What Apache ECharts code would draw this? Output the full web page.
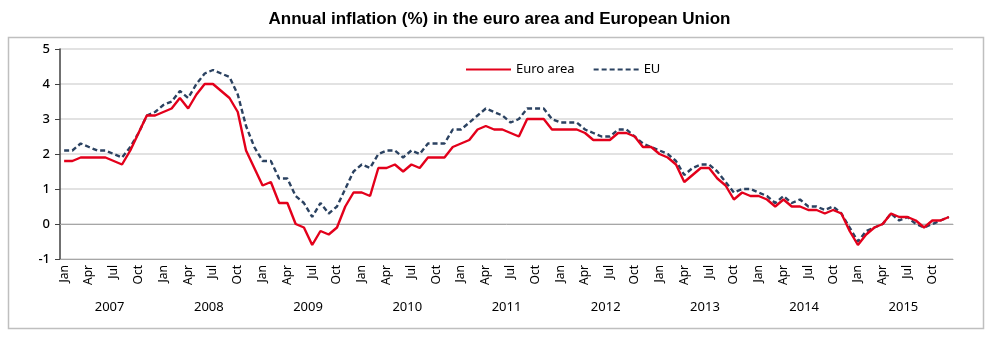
<!DOCTYPE html>
<html>
<head>
<meta charset="utf-8">
<script src="https://cdn.jsdelivr.net/npm/echarts@6/dist/echarts.min.js"></script>
<style>
  html, body { margin: 0; padding: 0; background: #fff; }
  #chart { width: 999px; height: 351px; }
</style>
</head>
<body>
<div id="chart"></div>
<script>
const years = ['2007', '2008', '2009', '2010', '2011', '2012', '2013', '2014', '2015'];
const monthNames = ['Jan', 'Feb', 'Mar', 'Apr', 'May', 'Jun', 'Jul', 'Aug', 'Sep', 'Oct', 'Nov', 'Dec'];
const yTicks = [-1, 0, 1, 2, 3, 4, 5];

// annual inflation, %, Jan 2007 .. Dec 2015
const euroArea = [
  1.8, 1.8, 1.9, 1.9, 1.9, 1.9, 1.8, 1.7, 2.1, 2.6, 3.1, 3.1,
  3.2, 3.3, 3.6, 3.3, 3.7, 4.0, 4.0, 3.8, 3.6, 3.2, 2.1, 1.6,
  1.1, 1.2, 0.6, 0.6, 0.0, -0.1, -0.6, -0.2, -0.3, -0.1, 0.5, 0.9,
  0.9, 0.8, 1.6, 1.6, 1.7, 1.5, 1.7, 1.6, 1.9, 1.9, 1.9, 2.2,
  2.3, 2.4, 2.7, 2.8, 2.7, 2.7, 2.6, 2.5, 3.0, 3.0, 3.0, 2.7,
  2.7, 2.7, 2.7, 2.6, 2.4, 2.4, 2.4, 2.6, 2.6, 2.5, 2.2, 2.2,
  2.0, 1.9, 1.7, 1.2, 1.4, 1.6, 1.6, 1.3, 1.1, 0.7, 0.9, 0.8,
  0.8, 0.7, 0.5, 0.7, 0.5, 0.5, 0.4, 0.4, 0.3, 0.4, 0.3, -0.2,
  -0.6, -0.3, -0.1, 0.0, 0.3, 0.2, 0.2, 0.1, -0.1, 0.1, 0.1, 0.2
];
const eu = [
  2.1, 2.1, 2.3, 2.2, 2.1, 2.1, 2.0, 1.9, 2.2, 2.6, 3.1, 3.2,
  3.4, 3.5, 3.8, 3.6, 4.0, 4.3, 4.4, 4.3, 4.2, 3.7, 2.8, 2.2,
  1.8, 1.8, 1.3, 1.3, 0.8, 0.6, 0.2, 0.6, 0.3, 0.5, 1.0, 1.5,
  1.7, 1.6, 2.0, 2.1, 2.1, 1.9, 2.1, 2.0, 2.3, 2.3, 2.3, 2.7,
  2.7, 2.9, 3.1, 3.3, 3.2, 3.1, 2.9, 3.0, 3.3, 3.3, 3.3, 3.0,
  2.9, 2.9, 2.9, 2.7, 2.6, 2.5, 2.5, 2.7, 2.7, 2.5, 2.3, 2.2,
  2.1, 2.0, 1.8, 1.4, 1.6, 1.7, 1.7, 1.5, 1.2, 0.9, 1.0, 1.0,
  0.9, 0.8, 0.6, 0.8, 0.6, 0.7, 0.5, 0.5, 0.4, 0.5, 0.3, -0.1,
  -0.5, -0.2, -0.1, 0.0, 0.3, 0.1, 0.2, 0.0, -0.1, 0.0, 0.1, 0.2
];

// one category per month
const months = [];
years.forEach(y => monthNames.forEach(m => months.push(m)));

const chart = echarts.init(document.getElementById('chart'));
const axisGrey = '#a6a6a6';
const font = '"Noto Sans", "Open Sans", sans-serif';

chart.setOption({
  animation: false,
  title: {
    text: 'Annual inflation (%) in the euro area and European Union',
    left: 'center',
    top: 6,
    textStyle: { fontFamily: '"Liberation Sans", Arial, sans-serif', fontSize: 17, fontWeight: 'bold', color: '#000' }
  },
  graphic: [
    {
      type: 'rect',
      shape: { x: 8.5, y: 37.5, width: 975, height: 291 },
      style: { fill: 'none', stroke: '#bfbfbf', lineWidth: 1.5 },
      silent: true,
      z: -1
    }
  ],
  legend: {
    left: 460,
    top: 58,
    itemWidth: 45,
    itemHeight: 10,
    itemGap: 18,
    itemStyle: { opacity: 0 },
    textStyle: { fontFamily: font, fontSize: 13, color: '#000' },
    data: ['Euro area', 'EU']
  },
  grid: { left: 60, right: 46, top: 49, bottom: 92 },
  xAxis: [
    {
      type: 'category',
      data: months,
      position: 'bottom',
      boundaryGap: true,
      axisLine: { onZero: false, lineStyle: { color: axisGrey, width: 1 } },
      axisTick: { interval: 0, length: 4, lineStyle: { color: axisGrey } },
      axisLabel: {
        interval: idx => idx % 3 === 0,
        rotate: 90,
        margin: 6,
        fontFamily: font,
        fontSize: 12,
        color: '#000'
      },
      splitLine: { show: false }
    },
    {
      // line at zero with month ticks
      type: 'category',
      data: months,
      position: 'bottom',
      boundaryGap: true,
      axisLine: { onZero: true, lineStyle: { color: axisGrey, width: 1 } },
      axisTick: { interval: 0, length: 3, lineStyle: { color: axisGrey } },
      axisLabel: { show: false },
      splitLine: { show: false }
    },
    {
      // year bands
      type: 'category',
      data: years,
      position: 'bottom',
      boundaryGap: true,
      axisLine: { show: false, onZero: false },
      axisTick: { interval: 0, length: 61, lineStyle: { color: axisGrey } },
      axisLabel: { interval: 0, margin: 42, fontFamily: font, fontSize: 13, color: '#000' },
      splitLine: { show: false }
    }
  ],
  yAxis: {
    type: 'value',
    min: yTicks[0],
    max: yTicks[yTicks.length - 1],
    interval: 1,
    axisLine: { show: true, lineStyle: { color: '#404040', width: 1.5 } },
    axisTick: { show: true, length: 5, lineStyle: { color: '#404040' } },
    axisLabel: { margin: 10, fontFamily: font, fontSize: 13, fontWeight: 500, color: '#000' },
    splitLine: { lineStyle: { color: '#d9d9d9', width: 1.5 } }
  },
  series: [
    {
      name: 'Euro area',
      type: 'line',
      xAxisIndex: 0,
      data: euroArea,
      symbol: 'none',
      color: '#e3001b',
      lineStyle: { width: 2.4, color: '#e3001b' },
      z: 3
    },
    {
      name: 'EU',
      type: 'line',
      xAxisIndex: 0,
      data: eu,
      symbol: 'none',
      color: '#2b4261',
      lineStyle: { width: 2.4, color: '#2b4261', type: [5, 3] },
      z: 2
    }
  ]
});
</script>
</body>
</html>
